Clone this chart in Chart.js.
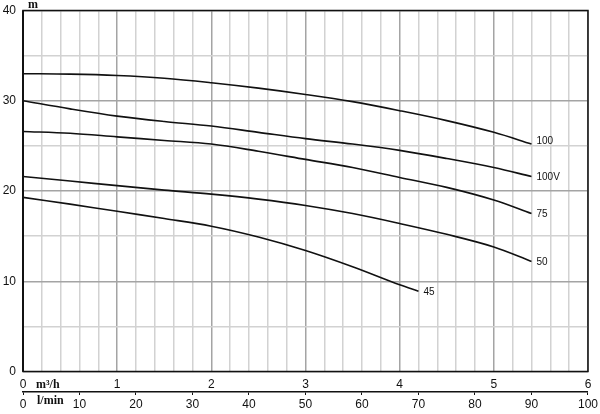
<!DOCTYPE html>
<html>
<head>
<meta charset="utf-8">
<script src="https://cdn.jsdelivr.net/npm/chart.js"></script>
<style>
  html, body { margin: 0; padding: 0; background: #fff; }
  #wrap { width: 600px; height: 414px; }
</style>
</head>
<body>
<div id="wrap"><canvas id="pumpChart" width="600" height="414"></canvas></div>
<script>
// caudal en m3/h
const flow = [0, 0.5, 1, 1.5, 2, 2.5, 3, 3.5, 4, 4.5, 5, 5.4];
const flow45 = [0, 0.5, 1, 1.5, 2, 2.5, 3, 3.5, 4, 4.2];

// altura en m
const head100  = [33.0, 32.95, 32.8, 32.5, 32.0, 31.4, 30.7, 29.9, 28.9, 27.8, 26.5, 25.2];
const head100V = [30.0, 29.1, 28.3, 27.7, 27.2, 26.5, 25.8, 25.2, 24.5, 23.6, 22.6, 21.6];
const head75   = [26.6, 26.4, 26.0, 25.6, 25.2, 24.4, 23.5, 22.6, 21.5, 20.4, 19.0, 17.5];
const head50   = [21.6, 21.1, 20.6, 20.1, 19.65, 19.1, 18.4, 17.5, 16.4, 15.2, 13.8, 12.2];
const head45   = [19.3, 18.55, 17.75, 16.95, 16.1, 14.9, 13.4, 11.6, 9.6, 8.9];

const curveNames = ["100", "100V", "75", "50", "45"];
const curveFlows = [flow, flow, flow, flow, flow45];
const curveHeads = [head100, head100V, head75, head50, head45];

const numFont = { family: "'Liberation Sans', Arial, sans-serif", size: 12 };

function near(v, step) {
  return Math.abs(v / step - Math.round(v / step)) < 1e-6;
}

const datasets = curveNames.map((name, i) => ({
  label: name,
  data: curveFlows[i].map((q, j) => ({ x: q, y: curveHeads[i][j] })),
  borderColor: "#111",
  borderWidth: 1.6,
  pointRadius: 0,
  fill: false,
  tension: 0.35,
  xAxisID: "x",
  yAxisID: "y"
}));

const extras = {
  id: "extras",
  afterDatasetsDraw(chart) {
    const ctx = chart.ctx;
    const a = chart.chartArea;
    ctx.save();

    // etiquetas de las curvas
    ctx.fillStyle = "#111";
    ctx.font = "10px 'Liberation Sans', Arial, sans-serif";
    ctx.textBaseline = "middle";
    ctx.textAlign = "left";
    chart.data.datasets.forEach((ds, i) => {
      const pts = chart.getDatasetMeta(i).data;
      const last = pts[pts.length - 1];
      const dy = i === 0 ? -3 : 1;
      ctx.fillText(ds.label, last.x + 5, last.y + dy);
    });

    // marco
    ctx.strokeStyle = "#111";
    ctx.lineWidth = 1.5;
    ctx.strokeRect(a.left, a.top, a.right - a.left, a.bottom - a.top);
    ctx.lineWidth = 2;
    ctx.beginPath();
    ctx.moveTo(a.left, a.top);
    ctx.lineTo(a.left, a.bottom);
    ctx.stroke();

    // unidades
    ctx.font = "bold 12px 'Liberation Serif', 'Times New Roman', serif";
    ctx.textBaseline = "alphabetic";
    ctx.fillText("m", a.left + 5, a.top - 3);
    ctx.fillText("m\u00b3/h", a.left + 13, a.bottom + 16);
    ctx.fillText("l/min", a.left + 14, a.bottom + 32);
    ctx.restore();
  }
};

new Chart(document.getElementById("pumpChart"), {
  type: "line",
  data: { datasets: datasets },
  options: {
    responsive: false,
    animation: false,
    layout: { padding: { top: 10.5, right: 11, left: 0, bottom: 0 } },
    plugins: {
      legend: { display: false },
      tooltip: { enabled: false }
    },
    scales: {
      x: {
        type: "linear",
        position: "bottom",
        weight: 0,
        min: 0,
        max: 6,
        afterFit: s => { s.height = 20.5; },
        ticks: {
          stepSize: 0.2,
          autoSkip: false,
          maxRotation: 0,
          padding: 6,
          color: "#111",
          font: numFont,
          callback: v => near(v, 1) ? Math.round(v) : ""
        },
        grid: {
          drawTicks: false,
          lineWidth: 1.5,
          color: c => near(c.tick.value, 1) ? "#a4a4a4" : "#d2d2d2"
        },
        border: { display: false }
      },
      x2: {
        type: "linear",
        position: "bottom",
        weight: 1,
        min: 0,
        max: 100,
        afterFit: s => { s.height = 22; },
        ticks: {
          stepSize: 10,
          autoSkip: false,
          maxRotation: 0,
          padding: 2,
          color: "#111",
          font: numFont
        },
        grid: {
          drawOnChartArea: false,
          drawTicks: true,
          tickLength: 3,
          color: "#111"
        },
        border: { display: true, color: "#111", width: 1.5 }
      },
      y: {
        type: "linear",
        position: "left",
        min: 0,
        max: 40,
        afterFit: s => { s.width = 23; s.paddingTop = 4; s.paddingBottom = 4; },
        ticks: {
          stepSize: 5,
          autoSkip: false,
          padding: 7,
          color: "#111",
          font: numFont,
          callback: v => near(v, 10) ? v : ""
        },
        grid: {
          drawTicks: false,
          lineWidth: 1.5,
          color: c => near(c.tick.value, 10) ? "#a4a4a4" : "#d2d2d2"
        },
        border: { display: false }
      }
    }
  },
  plugins: [extras]
});
</script>
</body>
</html>
